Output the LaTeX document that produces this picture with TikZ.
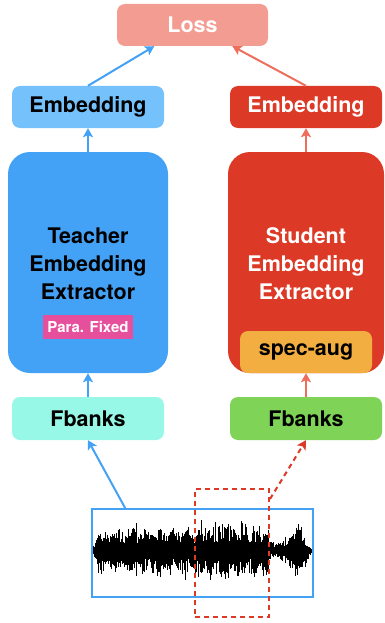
\documentclass[tikz,border=0pt]{standalone}
\usepackage{fontspec}
\setmainfont{TeX Gyre Heros}
\usetikzlibrary{arrows.meta,calc}
\usepackage{xcolor}

\definecolor{losspink}{HTML}{F29C92}
\definecolor{embblue}{HTML}{75C1FB}
\definecolor{tblue}{HTML}{43A1F6}
\definecolor{sred}{HTML}{DC3A26}
\definecolor{salmon}{HTML}{EE6E5C}
\definecolor{parapink}{HTML}{E64F9C}
\definecolor{specorange}{HTML}{F2AE41}
\definecolor{fbaqua}{HTML}{98F8E7}
\definecolor{fbgreen}{HTML}{7FD357}

\begin{document}
\begin{tikzpicture}[x=1pt, y=-1pt, >={Stealth[length=9pt,width=10pt,inset=2pt]},
  every box/.style={rounded corners=8pt, minimum width=152pt, minimum height=42pt,
    inner sep=0pt, font=\fontsize{21.5}{25}\selectfont\bfseries},
  every extractor/.style={rounded corners=22pt, minimum height=221pt, inner sep=0pt,
    align=center, font=\fontsize{21.5}{28}\selectfont\bfseries},
  link/.style={->, line width=2pt}]

\useasboundingbox (0,0) rectangle (384,623);

\node [every box/.try, fill=losspink, text=white, minimum width=151pt] (loss) at (192.5,25) {Loss};

\foreach \n/\x/\c/\t in {teacher/88/embblue/black, student/306/sred/white}
  \node [every box/.try, fill=\c, text=\t] (emb-\n) at (\x,107) {Embedding};

\node [every extractor/.try, fill=tblue, text=black, minimum width=160pt] (ext-teacher) at (88,262.5) {};
\node [every extractor/.try, fill=sred, text=white, minimum width=156pt] (ext-student) at (306,262.5) {};
% labels of the extractors
\node [every extractor/.try, minimum height=0pt, text=black] (lab-teacher) at (88,264) {Teacher\\Embedding\\Extractor};
\node [every extractor/.try, minimum height=0pt, text=white] (lab-student) at (306,264) {Student\\Embedding\\Extractor};

\node [fill=parapink, text=white, minimum width=90pt, minimum height=24pt, inner sep=0pt,
  font=\fontsize{15}{18}\selectfont\bfseries] (para) at (88,327) {Para. Fixed};
\node [every box/.try, fill=specorange, minimum width=132pt] (spec) at (306,352) {spec-aug};

\foreach \n/\x/\c in {teacher/88/fbaqua, student/306/fbgreen}
  \node [every box/.try, fill=\c, minimum height=43pt] (fb-\n) at (\x,418.5) {Fbanks};

% waveform
\pgfmathsetseed{11}
\foreach \xa/\xb/\ea/\eb in {93/97/6/22, 98/195/24/26, 196/245/30/30, 246/268/27/28,
                              269/284/10/10, 285/300/16/31, 301/311/30/2} {
  \foreach \x in {\xa,...,\xb} {
    \pgfmathsetmacro\env{\ea+(\eb-\ea)*(\x-\xa)/max(\xb-\xa,1)}
    \pgfmathsetmacro\sp{rnd>0.95 ? 1.35 : 1}
    \pgfmathsetmacro\up{\sp*\env*(0.3+0.7*(0.5+0.5*abs(sin(\x*13)))*rnd^0.7)}
    \pgfmathsetmacro\dn{\sp*\env*(0.3+0.7*(0.5+0.5*abs(sin(\x*13+50)))*rnd^0.7)}
    \draw [line width=1pt] (\x,551-\up) -- (\x,551+\dn);
  }
}

\node [draw=tblue, line width=1.5pt, minimum width=221pt, minimum height=88pt, inner sep=0pt] (wave) at (202.5,553) {};
\node [draw=sred, line width=2pt, dash pattern=on 5pt off 4pt, minimum width=74pt,
  minimum height=128pt, inner sep=0pt] (crop) at (232,553) {};

\draw [link, tblue] (emb-teacher.north) -- (loss.209);
\draw [link, salmon] (emb-student.north) -- (loss.332);
\draw [link, tblue] (ext-teacher.north) -- (emb-teacher.south);
\draw [link, salmon] (ext-student.north) -- (emb-student.south);
\draw [link, tblue] (fb-teacher.north) -- (ext-teacher.south);
\draw [link, salmon] (fb-student.north) -- (spec.south);
\draw [link, tblue] ($(wave.north west)+(34,0)$) -- (fb-teacher.south);
\draw [link, sred, dash pattern=on 5pt off 4pt] ($(crop.north east)+(0,11)$) -- (fb-student.south);

\end{tikzpicture}
\end{document}
